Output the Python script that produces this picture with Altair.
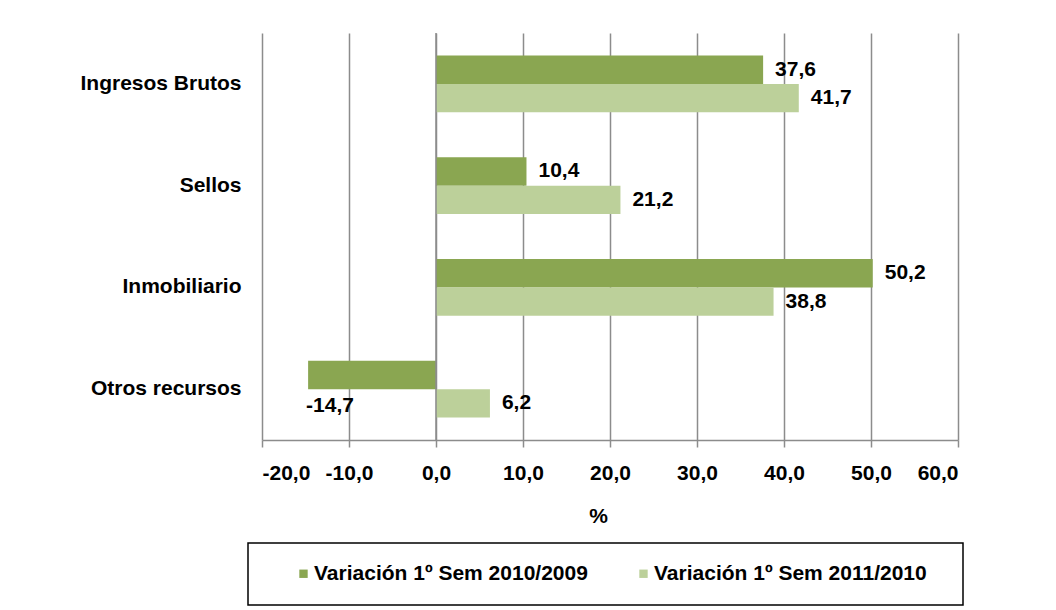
import altair as alt
import pandas as pd

categories = ["Ingresos Brutos", "Sellos", "Inmobiliario", "Otros recursos"]
series = ["Variación 1º Sem 2010/2009", "Variación 1º Sem 2011/2010"]
v_2010_2009 = [37.6, 10.4, 50.2, -14.7]
v_2011_2010 = [41.7, 21.2, 38.8, 6.2]
x_ticks = [-20, -10, 0, 10, 20, 30, 40, 50, 60]

rows = []
for c, a, b in zip(categories, v_2010_2009, v_2011_2010):
    rows.append({"cat": c, "serie": series[0], "valor": a})
    rows.append({"cat": c, "serie": series[1], "valor": b})
df = pd.DataFrame(rows)

DARK = "#8AA651"
LIGHT = "#BCD09A"
GRID = "#8C8C8C"
FONT = "Liberation Sans"
FS = 21

num_expr = "replace(replace(format({v}, '.1f'), '.', ','), '\u2212', '-')"

base = alt.Chart(df).encode(
    y=alt.Y("cat:N", sort=categories,
            scale=alt.Scale(paddingInner=0.44, paddingOuter=0.22),
            axis=alt.Axis(title=None, domain=False, ticks=False, grid=False,
                          labelPadding=21, labelFontSize=FS, labelFontWeight="bold",
                          labelColor="black", labelFont=FONT, labelLimit=400)),
    yOffset=alt.YOffset("serie:N", sort=series,
                        scale=alt.Scale(paddingInner=0, paddingOuter=0)),
    x=alt.X("valor:Q", scale=alt.Scale(domain=[-20, 60], nice=False, zero=False),
            axis=alt.Axis(values=x_ticks,
                          labelExpr=num_expr.format(v="datum.value"),
                          grid=True, gridColor=GRID, gridWidth=1.5,
                          domainColor=GRID, domainWidth=1.5,
                          tickColor=GRID, tickWidth=1.5, tickSize=7,
                          labelFontSize=FS, labelFontWeight="bold", labelColor="black",
                          labelFont=FONT, labelPadding=15,
                          title="%", titleFontSize=FS, titleFontWeight="bold",
                          titleColor="black", titleFont=FONT, titlePadding=22,
                          titleX=336)),
)

bars = base.mark_bar().encode(
    color=alt.Color("serie:N", sort=series,
                    scale=alt.Scale(domain=series, range=[DARK, LIGHT]),
                    legend=alt.Legend(title=None, orient="none", legendX=31, legendY=530,
                                      direction="horizontal", symbolType="square",
                                      symbolSize=70, symbolStrokeWidth=0,
                                      labelFontSize=FS, labelFontWeight="bold",
                                      labelColor="black", labelFont=FONT,
                                      labelLimit=500, columnPadding=45,
                                      labelOffset=0, padding=0))
)

lbl_expr = num_expr.format(v="datum.valor")

pos_labels = base.transform_filter("datum.valor >= 0").transform_calculate(
    lbl=lbl_expr
).mark_text(align="left", baseline="middle", dx=12, fontSize=FS,
            fontWeight="bold", color="black", font=FONT).encode(text="lbl:N")

neg_labels = base.transform_filter("datum.valor < 0").transform_calculate(
    lbl=lbl_expr
).mark_text(align="left", baseline="middle", dx=-2, dy=31, fontSize=FS,
            fontWeight="bold", color="black", font=FONT).encode(text="lbl:N")

zero_rule = alt.Chart(alt.Data(values=[{"x": 0}])).mark_rule(
    color=GRID, strokeWidth=1.5).encode(x="x:Q")

legend_box = alt.Chart(alt.Data(values=[{"k": 1}])).mark_rect(
    fillOpacity=0, stroke="black", strokeWidth=1.5).encode(
    x=alt.value(-14), x2=alt.value(701), y=alt.value(510), y2=alt.value(572))

chart = alt.layer(bars, zero_rule, pos_labels, neg_labels, legend_box).properties(
    width=696, height=407,
    autosize=alt.AutoSizeParams(type="none"),
    padding={"left": 254, "top": 25, "right": 90, "bottom": 168},
    background="white",
).configure_view(stroke=None)

chart.save("out.html", embed_options={"renderer": "svg", "actions": False})
